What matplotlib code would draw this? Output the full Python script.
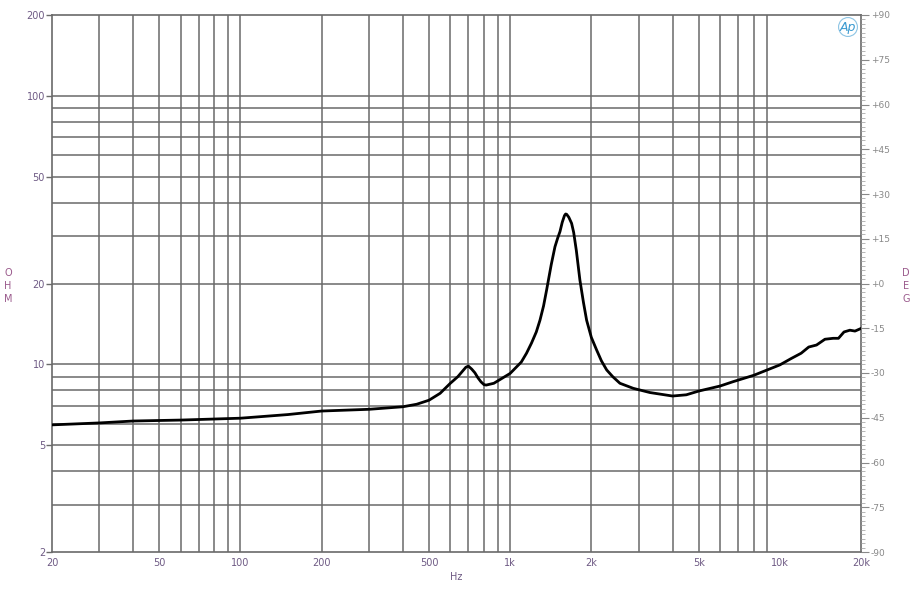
import numpy as np
import matplotlib
matplotlib.use("Agg")
import matplotlib.pyplot as plt
from matplotlib.ticker import FixedLocator, NullFormatter, MultipleLocator

# impedance curve (Hz, ohm)
freq = [20, 30, 40, 60, 100, 150, 200, 300, 400, 450, 500, 550, 600, 620, 640, 670,
        685, 700, 720, 740, 760, 780, 800, 815, 870, 1000, 1100, 1150, 1200, 1250,
        1290, 1330, 1365, 1420, 1466, 1500, 1530, 1560, 1590, 1606, 1620, 1650,
        1690, 1720, 1760, 1814, 1870, 1921, 2000, 2093, 2180, 2280, 2400, 2553,
        2860, 3300, 4000, 4500, 5000, 6000, 6716, 8000, 10000, 11000, 12000,
        12800, 13680, 14700, 15770, 16500, 17300, 18190, 19000, 20000]
ohm = [5.95, 6.05, 6.15, 6.2, 6.3, 6.5, 6.7, 6.8, 6.95, 7.1, 7.35, 7.8, 8.5, 8.75, 9.0, 9.5,
       9.75, 9.85, 9.6, 9.3, 8.9, 8.6, 8.4, 8.37, 8.5, 9.25, 10.2, 11.0, 12.0, 13.2,
       14.6, 16.5, 18.9, 23.5, 27.4, 29.5, 31.2, 33.8, 35.8, 36.3, 36.2, 35.3,
       33.5, 31.0, 26.5, 20.6, 17.0, 14.6, 12.6, 11.3, 10.3, 9.53, 9.0, 8.5,
       8.14, 7.85, 7.62, 7.7, 7.95, 8.3, 8.62, 9.1, 9.95, 10.5, 11.0,
       11.6, 11.8, 12.4, 12.5, 12.5, 13.2, 13.4, 13.3, 13.6]

x_ticks = [20, 50, 100, 200, 500, 1000, 2000, 5000, 10000, 20000]
x_labels = ["20", "50", "100", "200", "500", "1k", "2k", "5k", "10k", "20k"]
y_ticks = [2, 5, 10, 20, 50, 100, 200]
y_labels = ["2", "5", "10", "20", "50", "100", "200"]
deg_ticks = list(range(-90, 91, 15))
deg_labels = [("+%d" % d) if d >= 0 else "%d" % d for d in deg_ticks]

grid_x = [k * 10 ** n for n in range(1, 4) for k in range(1, 10) if 20 < k * 10 ** n <= 10000]
grid_y = [k * 10 ** n for n in range(0, 3) for k in range(1, 10) if 2 < k * 10 ** n < 200]

lab_col = "#6e5a84"
axis_col = "#9a5a8c"
grid_col = "#6a6a6a"

fig = plt.figure(figsize=(9.14, 6.0), dpi=100)
ax = fig.add_axes([52 / 914, 1 - 552 / 600, (861 - 52) / 914, (552 - 15) / 600])
ax.set_xscale("log")
ax.set_yscale("log")
ax.set_xlim(20, 20000)
ax.set_ylim(2, 200)

for gx in grid_x:
    ax.axvline(gx, color=grid_col, lw=1.1, zorder=1)
for gy in grid_y:
    ax.axhline(gy, color=grid_col, lw=1.1, zorder=1)

ax.plot(freq, ohm, color="black", lw=2.0, zorder=3, solid_joinstyle="round")

ax.xaxis.set_major_locator(FixedLocator(x_ticks))
ax.set_xticklabels(x_labels)
ax.xaxis.set_minor_locator(FixedLocator([]))
ax.xaxis.set_minor_formatter(NullFormatter())
ax.yaxis.set_major_locator(FixedLocator(y_ticks))
ax.set_yticklabels(y_labels)
ax.yaxis.set_minor_locator(FixedLocator([]))
ax.yaxis.set_minor_formatter(NullFormatter())
ax.tick_params(axis="x", length=0, pad=4, labelsize=7, labelcolor=lab_col)
ax.tick_params(axis="y", length=4, width=1, color=grid_col, pad=1, labelsize=7, labelcolor=lab_col)
for s in ax.spines.values():
    s.set_color(grid_col)
    s.set_linewidth(1.2)

ax2 = ax.twinx()
ax2.set_ylim(-90, 90)
ax2.yaxis.set_major_locator(FixedLocator(deg_ticks))
ax2.set_yticklabels(deg_labels)
ax2.yaxis.set_minor_locator(MultipleLocator(1.5))
ax2.tick_params(axis="y", which="major", length=6, width=0.8, color="#888888", pad=1,
                labelsize=6.5, labelcolor="#888888")
ax2.tick_params(axis="y", which="minor", length=3, width=0.6, color="#aaaaaa")
for s in ax2.spines.values():
    s.set_visible(False)

fig.text(8 / 914, 1 - 286 / 600, "O\nH\nM", color=axis_col, fontsize=7,
         ha="center", va="center", linespacing=1.4)
fig.text(906 / 914, 1 - 286 / 600, "D\nE\nG", color=axis_col, fontsize=7,
         ha="center", va="center", linespacing=1.4)
fig.text(456 / 914, 1 - 577 / 600, "Hz", color=lab_col, fontsize=7, ha="center", va="center")

fig.text(848 / 914, 1 - 27 / 600, "Ap", color="#3a9ad0", fontsize=9, style="italic",
         ha="center", va="center",
         bbox=dict(boxstyle="circle,pad=0.1", fc="none", ec="#8cc4e4", lw=0.8))

fig.savefig("out.png", dpi=100)
